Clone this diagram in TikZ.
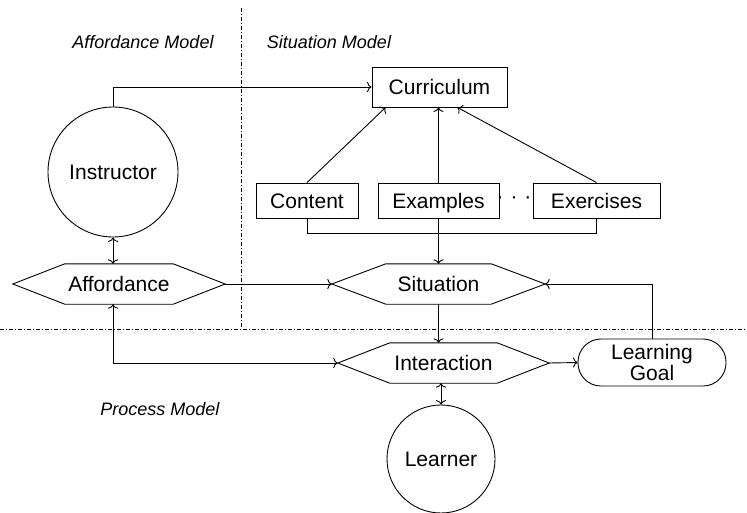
\documentclass[tikz,border=0pt]{standalone}
\usepackage{fontspec}
\setmainfont{Liberation Sans}
\usetikzlibrary{arrows.meta}
\begin{document}
\begin{tikzpicture}[x=1pt,y=-1pt,
  every node/.style={font=\fontsize{21}{21}\selectfont, inner sep=0pt},
  line/.style={line width=0.9pt},
  tip/.style={To[length=4.5pt,width=10pt]},
  link/.style={line width=0.9pt, -{To[length=4.5pt,width=10pt]}},
  dlink/.style={line width=0.9pt, {To[length=4.5pt,width=10pt]}-{To[length=4.5pt,width=10pt]}},
  label/.style={text height=15pt, text depth=0pt},
  box/.style={draw, line width=0.9pt, rectangle, minimum height=35, label},
  ball/.style={draw, line width=0.9pt, circle, label},
  hexa/.style={rectangle, minimum height=40, label},
  goalbox/.style={draw, line width=0.9pt, rectangle, rounded corners=23pt,
    minimum width=148, minimum height=47, align=center},
  region/.style={line width=0.8pt, dash pattern=on 4pt off 2pt on 1pt off 2pt},
  caption/.style={font=\fontsize{18}{20}\selectfont\itshape}
]
\useasboundingbox (0,0) rectangle (747,512);

% separators between the three models
\draw[region] (241,8) -- (241,328);
\draw[region] (0,329) -- (747,329);

\node[caption] (capA) at (143,42) {Affordance Model};
\node[caption] (capS) at (329,42) {Situation Model};
\node[caption] (capP) at (160,409) {Process Model};

% boxes
\node[box, minimum width=135, minimum height=40] (cur) at (439.5,87) {Curriculum};
\node[box, minimum width=102] (con) at (307,200.5) {Content};
\node[box, minimum width=121] (exa) at (438.5,200.5) {Examples};
\node[box, minimum width=127] (exe) at (596.5,200.5) {Exercises};
\node (dots) at (514,200) {\textperiodcentered\,\,\textperiodcentered\,\,\textperiodcentered};

% circles
\node[ball, minimum size=130] (ins) at (113,172) {Instructor};
\node[ball, minimum size=108] (lea) at (441,459) {Learner};

% hexagons: invisible frame, outline drawn from its anchors
\newcommand{\hexoutline}[2]{%
  \draw[line] (#1.west) -- ([xshift=#2]#1.north west) -- ([xshift=-#2]#1.north east)
    -- (#1.east) -- ([xshift=-#2]#1.south east) -- ([xshift=#2]#1.south west) -- cycle;}
\node[hexa, minimum width=212] (aff) at (119,284) {Affordance};
\hexoutline{aff}{52pt}
\node[hexa, minimum width=213] (sit) at (438.5,284) {Situation};
\hexoutline{sit}{54pt}
\node[hexa, minimum width=211] (int) at (443.5,363) {Interaction};
\hexoutline{int}{52pt}

\node[goalbox] (goal) at (652,362.5) {Learning\\Goal};

% connectors
\draw[link] (ins.north) |- (cur.west);
\draw[link] (con.north) -- ([xshift=14pt]cur.south west);
\draw[link] (exa.north) -- (exa.north |- cur.south);
\draw[link] (exe.north) -- ([xshift=-50pt]cur.south east);
\draw[line] (con.south) -- ++(0,15) -| (exe.south);
\draw[link] (exa.south) -- (exa.south |- sit.north);
\draw[link] (aff.east) -- (sit.west);
\draw[link] (goal.north) |- (sit.east);
\draw[link] (sit.south) -- (sit.south |- int.north);
\draw[dlink] (ins.south) -- (ins.south |- aff.north);
\draw[dlink] (ins.south |- aff.south) |- (int.west);
\draw[link] (int.east) -- (goal.west);
\draw[dlink] (lea.north |- int.south) -- (lea.north);
\end{tikzpicture}
\end{document}
